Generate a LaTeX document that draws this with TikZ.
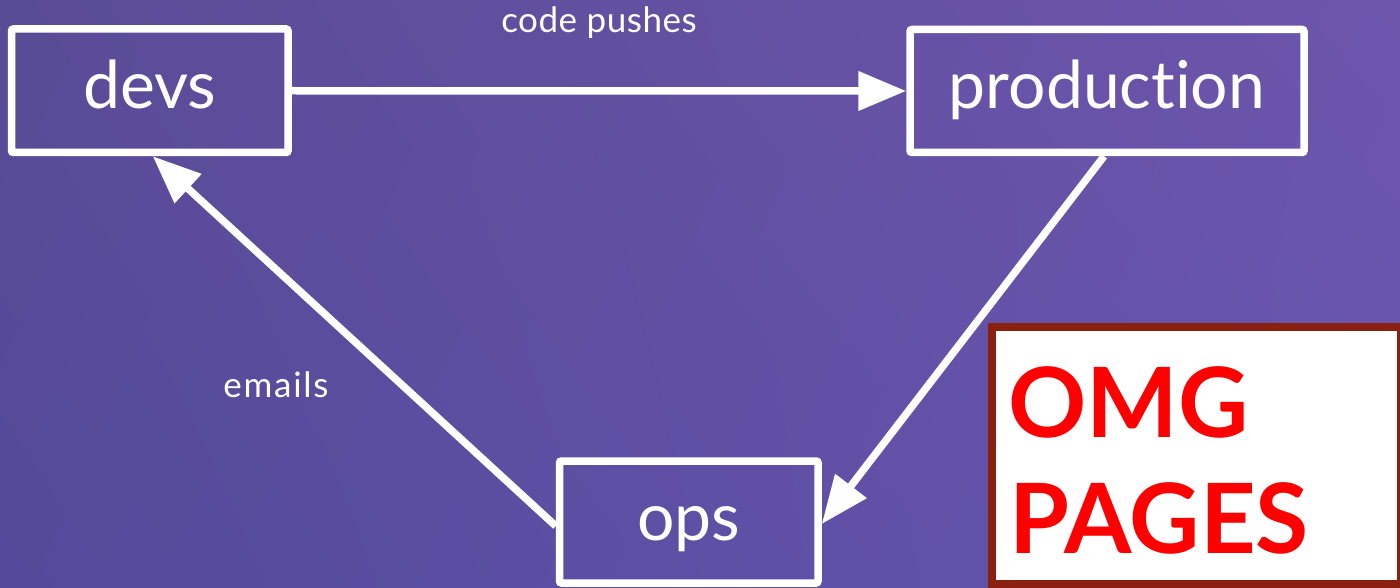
\documentclass[tikz,border=0pt]{standalone}
\usepackage{fontspec}
\setmainfont{Lato}[Ligatures={NoCommon}]
\usetikzlibrary{arrows.meta,shadings}
\definecolor{bgUL}{HTML}{594C96}
\definecolor{bgUR}{HTML}{6D55AC}
\definecolor{bgLL}{HTML}{54499A}
\definecolor{bgLR}{HTML}{6656B0}
\definecolor{omgborder}{HTML}{8A2010}
\definecolor{omgred}{HTML}{FF0000}
\tikzset{
  flowbox/.style={draw=white, line width=7.5pt, rounded corners=2pt, inner sep=0pt,
    text=white, font=\fontsize{66}{70}\selectfont, text height=36pt, text depth=0pt},
  flowarrow/.style={draw=white, line width=7.5pt, -{Triangle[length=48pt,width=38pt]}},
  flowlabel/.style={text=white, font=\fontsize{35}{40}\selectfont, inner sep=0pt, anchor=base},
  omgtext/.style={text=omgred, font=\fontsize{97}{116}\bfseries\selectfont, inner sep=0pt, anchor=base west}
}
\begin{document}
\begin{tikzpicture}[x=1pt,y=-1pt]
\useasboundingbox (0,0) rectangle (1400,588);
\clip (0,0) rectangle (1400,588);
\shade[upper left=bgUL, upper right=bgUR, lower left=bgLL, lower right=bgLR] (0,0) rectangle (1400,588);

\node[flowbox, minimum width=276.5pt, minimum height=123.5pt] (devs) at (149.75,90.75) {devs};
\node[flowbox, minimum width=394pt, minimum height=123pt] (production) at (1107,91) {produc\kern0pt tion};
\node[flowbox, minimum width=258.5pt, minimum height=122pt] (ops) at (688.75,522) {ops};

\draw[flowarrow] (devs.east) -- (production.west);
\draw[flowarrow] ([xshift=-3pt]production.south) -- ([yshift=-2pt]ops.east);
\draw[flowarrow] ([yshift=-4pt]ops.west) -- ([xshift=3pt]devs.south);

\node[flowlabel] (codepushes) at (599,33) {\addfontfeatures{LetterSpace=1.5}code pushes};
\node[flowlabel] (emails) at (276,397) {\addfontfeatures{LetterSpace=5}emails};

\node[draw=omgborder, fill=white, line width=8pt, minimum width=409pt, minimum height=256.5pt, inner sep=0pt] (omgbox) at (1196.5,455.25) {};
\node[omgtext] (omg) at (1008,437) {OMG};
\node[omgtext] (pages) at (1009,553) {PAGES};
\end{tikzpicture}
\end{document}
